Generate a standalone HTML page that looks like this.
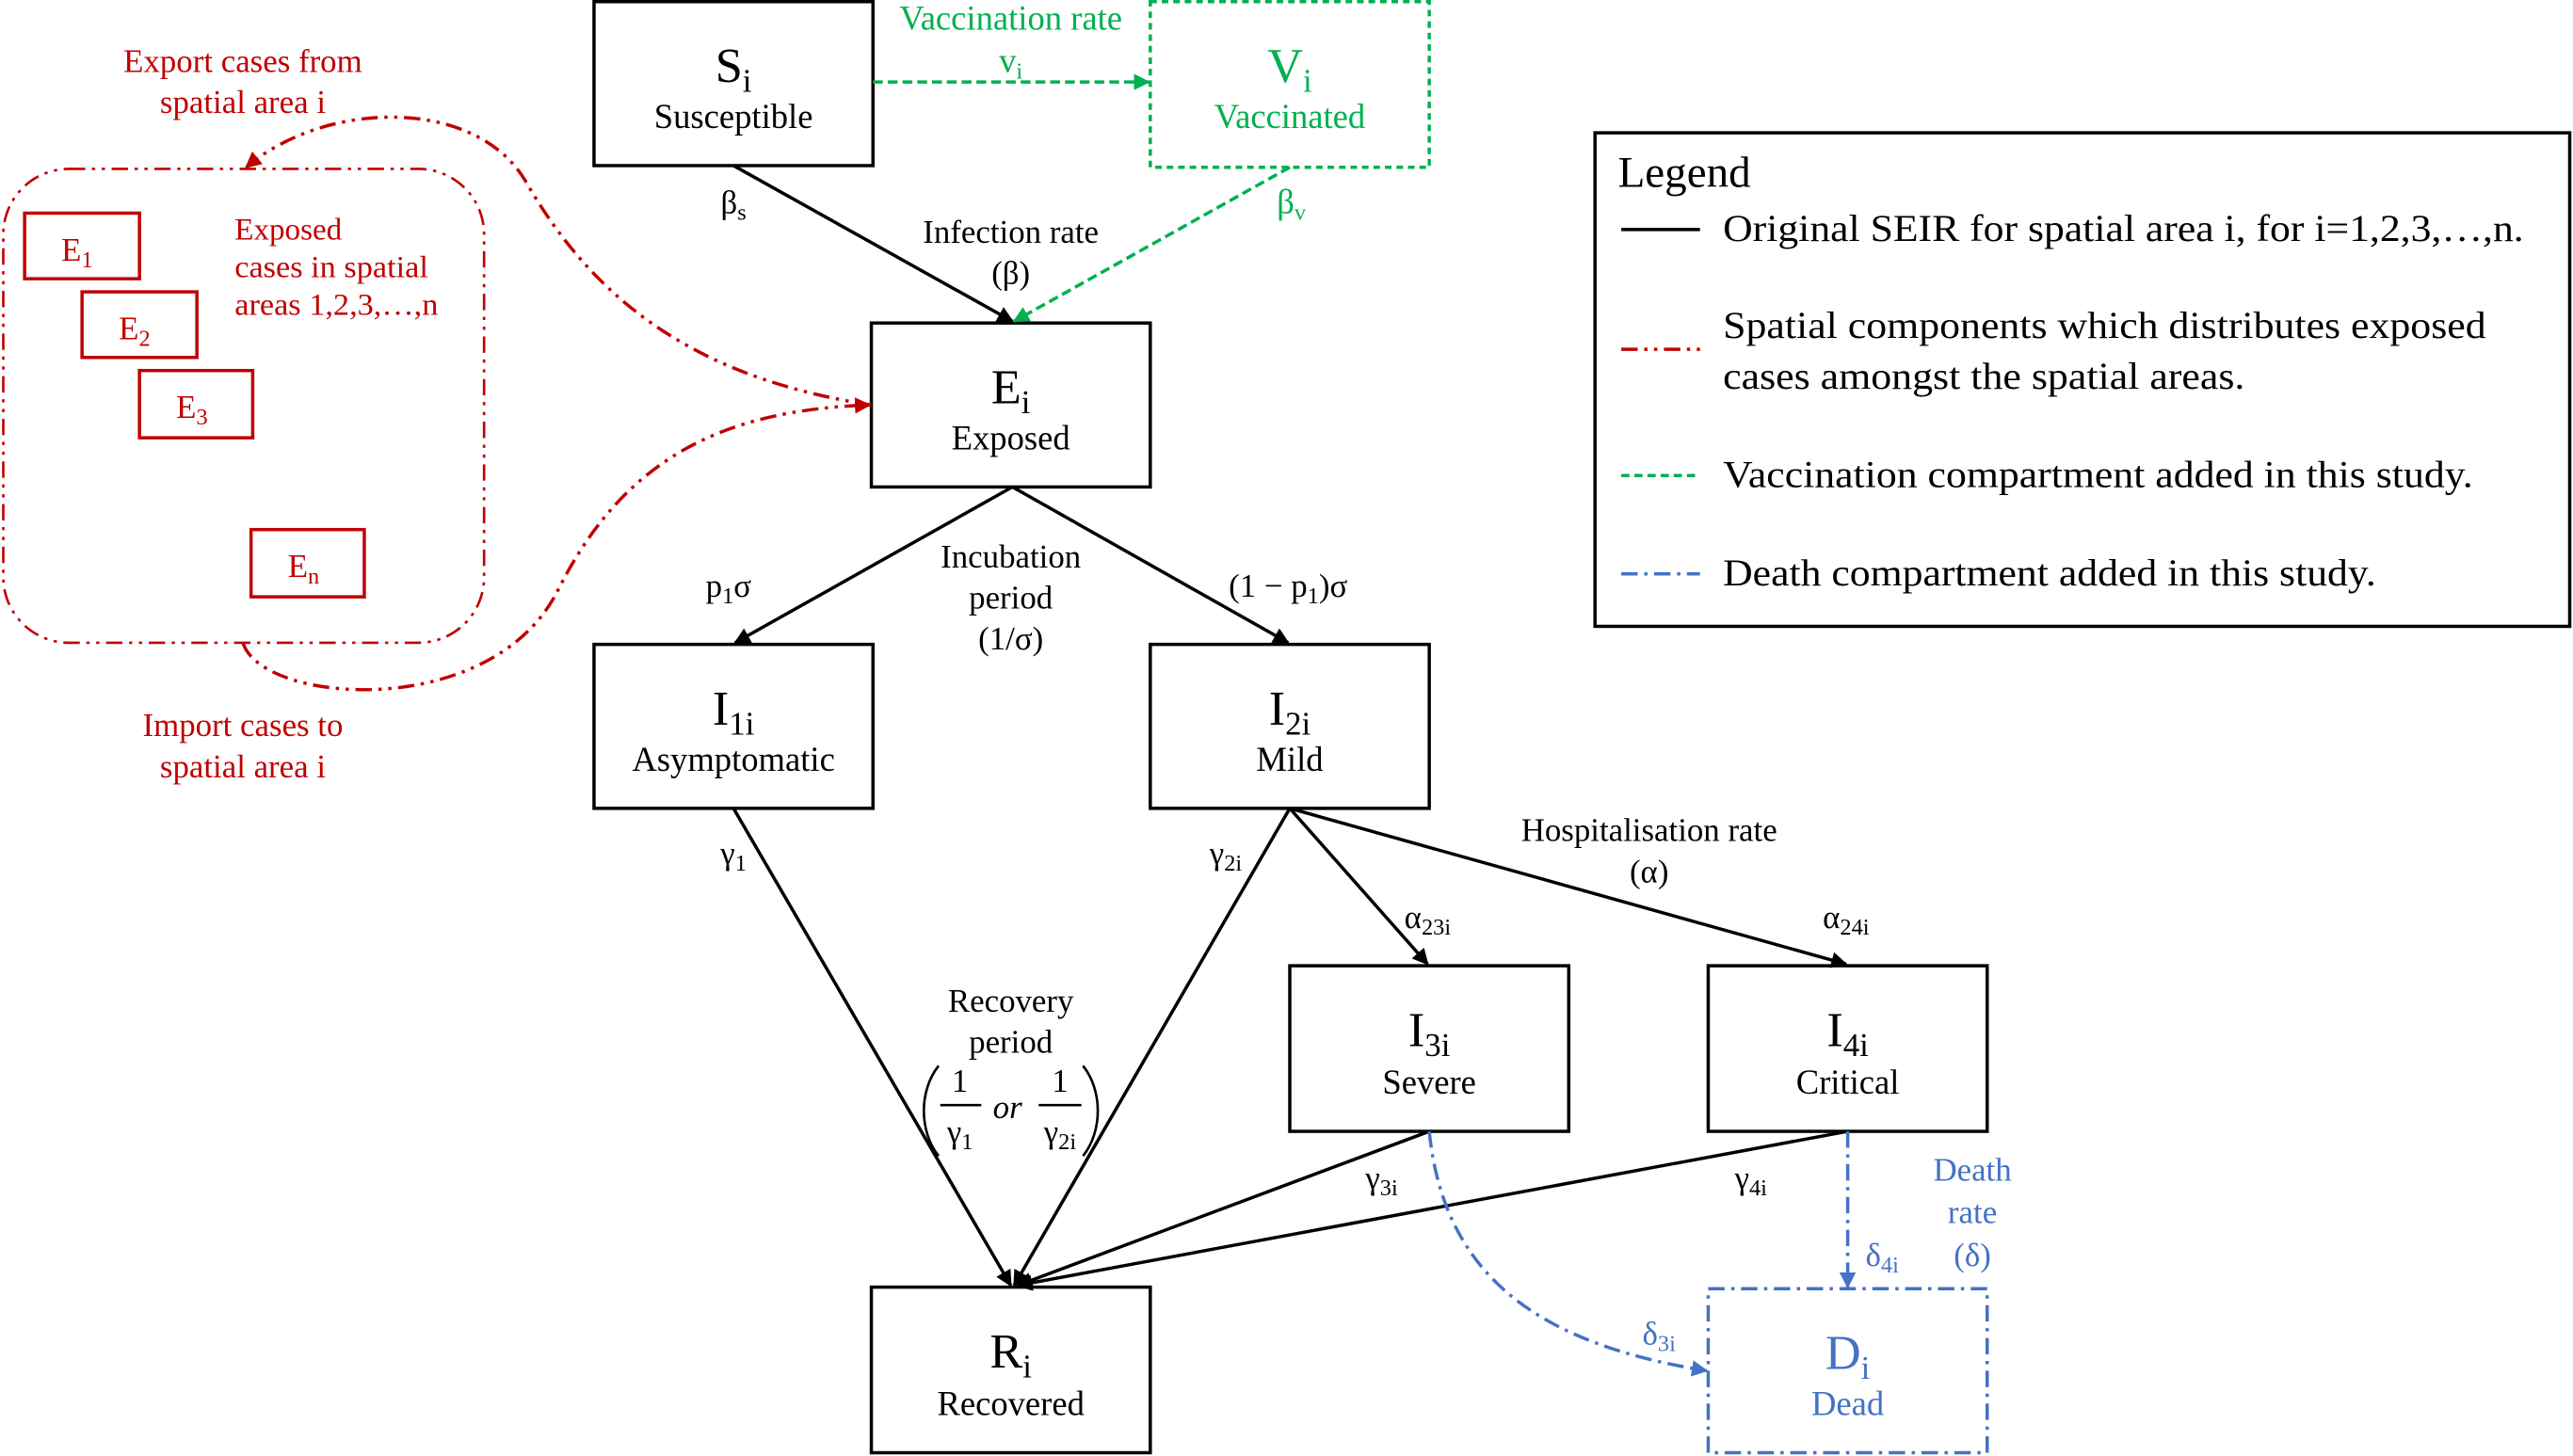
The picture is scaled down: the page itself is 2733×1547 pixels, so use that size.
<!DOCTYPE html>
<html><head><meta charset="utf-8"><style>
html,body{margin:0;padding:0;background:#fff;}
svg{display:block;font-family:"Liberation Serif",serif;}
</style></head><body>
<svg width="2733" height="1547" viewBox="0 0 1568 888" preserveAspectRatio="none" xmlns="http://www.w3.org/2000/svg">
<defs>
<marker id="ak" markerWidth="10" markerHeight="10" refX="9" refY="5" orient="auto" markerUnits="userSpaceOnUse"><path d="M0,0 L10,5 L0,10 z" fill="#000"/></marker>
<marker id="ag" markerWidth="10" markerHeight="10" refX="9" refY="5" orient="auto" markerUnits="userSpaceOnUse"><path d="M0,0 L10,5 L0,10 z" fill="#00b050"/></marker>
<marker id="ar" markerWidth="10" markerHeight="10" refX="9" refY="5" orient="auto" markerUnits="userSpaceOnUse"><path d="M0,0 L10,5 L0,10 z" fill="#c00000"/></marker>
<marker id="ab" markerWidth="10" markerHeight="10" refX="9" refY="5" orient="auto" markerUnits="userSpaceOnUse"><path d="M0,0 L10,5 L0,10 z" fill="#4472c4"/></marker>
</defs>
<g fill="none" stroke-width="2">
<rect x="362" y="1" width="170" height="100" stroke="#000"/>
<rect x="701" y="1" width="170" height="101" stroke="#00b050" stroke-dasharray="4,3"/>
<rect x="531" y="197" width="170" height="100" stroke="#000"/>
<rect x="362" y="393" width="170" height="100" stroke="#000"/>
<rect x="701" y="393" width="170" height="100" stroke="#000"/>
<rect x="786" y="589" width="170" height="101" stroke="#000"/>
<rect x="1041" y="589" width="170" height="101" stroke="#000"/>
<rect x="531" y="785" width="170" height="101" stroke="#000"/>
<rect x="1041" y="786" width="170" height="100" stroke="#4472c4" stroke-dasharray="10,4,2,4"/>
<rect x="972" y="81" width="594" height="301" stroke="#000"/>
<rect x="2" y="103" width="293" height="289" rx="40" stroke="#c00000" stroke-width="1.5" stroke-dasharray="10,4,2,4,2,4"/>
<rect x="15" y="130" width="70" height="40" stroke="#c00000"/>
<rect x="50" y="178" width="70" height="40" stroke="#c00000"/>
<rect x="85" y="226" width="69" height="41" stroke="#c00000"/>
<rect x="153" y="323" width="69" height="41" stroke="#c00000"/>
<g stroke="#000" marker-end="url(#ak)">
<line x1="447" y1="101" x2="617" y2="196"/>
<line x1="617" y1="297" x2="448" y2="392"/>
<line x1="617" y1="297" x2="785" y2="392"/>
<line x1="447" y1="493" x2="616" y2="784"/>
<line x1="786" y1="493" x2="618" y2="784"/>
<line x1="786" y1="493" x2="870" y2="588"/>
<line x1="786" y1="493" x2="1125" y2="588"/>
<line x1="871" y1="690" x2="620" y2="784"/>
<line x1="1126" y1="690" x2="620" y2="784"/>
</g>
<line x1="532" y1="50" x2="700" y2="50" stroke="#00b050" stroke-dasharray="6,3" marker-end="url(#ag)"/>
<line x1="786" y1="102" x2="618" y2="196" stroke="#00b050" stroke-dasharray="6,3" marker-end="url(#ag)"/>
<path d="M531,247 C420,230 360,180 320,110 C290,60 200,60 150,102" stroke="#c00000" stroke-dasharray="10,4,2,4,2,4" marker-end="url(#ar)"/>
<path d="M148,392 C160,430 300,440 340,360 C380,280 440,250 530,247" stroke="#c00000" stroke-dasharray="10,4,2,4,2,4" marker-end="url(#ar)"/>
<path d="M871,690 C880,780 940,820 1040,836" stroke="#4472c4" stroke-dasharray="10,4,2,4" marker-end="url(#ab)"/>
<line x1="1126" y1="690" x2="1126" y2="785" stroke="#4472c4" stroke-dasharray="10,4,2,4" marker-end="url(#ab)"/>
<line x1="988" y1="140" x2="1036" y2="140" stroke="#000"/>
<line x1="988" y1="213" x2="1036" y2="213" stroke="#c00000" stroke-dasharray="10,4,2,4,2,4"/>
<line x1="988" y1="290" x2="1036" y2="290" stroke="#00b050" stroke-dasharray="5,3"/>
<line x1="988" y1="350" x2="1036" y2="350" stroke="#4472c4" stroke-dasharray="10,4,2,4"/>
</g>
<g text-anchor="middle" font-size="21">
<text x="447" y="50" font-size="30">S<tspan font-size="20" dy="6">i</tspan></text><text x="447" y="78">Susceptible</text>
<g fill="#00b050"><text x="786" y="50" font-size="30">V<tspan font-size="20" dy="6">i</tspan></text><text x="786" y="78">Vaccinated</text>
<text x="616" y="18">Vaccination rate</text><text x="616" y="44">v<tspan font-size="14" dy="4">i</tspan></text>
<text x="787" y="130">β<tspan font-size="14" dy="4">v</tspan></text></g>
<text x="616" y="246" font-size="30">E<tspan font-size="20" dy="6">i</tspan></text><text x="616" y="274">Exposed</text>
<text x="447" y="442" font-size="30">I<tspan font-size="20" dy="6">1i</tspan></text><text x="447" y="470">Asymptomatic</text>
<text x="786" y="442" font-size="30">I<tspan font-size="20" dy="6">2i</tspan></text><text x="786" y="470">Mild</text>
<text x="871" y="638" font-size="30">I<tspan font-size="20" dy="6">3i</tspan></text><text x="871" y="667">Severe</text>
<text x="1126" y="638" font-size="30">I<tspan font-size="20" dy="6">4i</tspan></text><text x="1126" y="667">Critical</text>
<text x="616" y="834" font-size="30">R<tspan font-size="20" dy="6">i</tspan></text><text x="616" y="863">Recovered</text>
<g fill="#4472c4"><text x="1126" y="835" font-size="30">D<tspan font-size="20" dy="6">i</tspan></text><text x="1126" y="863">Dead</text>
<text x="1202" y="720" font-size="20">Death</text><text x="1202" y="746" font-size="20">rate</text><text x="1202" y="772" font-size="20">(δ)</text>
<text x="1147" y="772" font-size="20">δ<tspan font-size="14" dy="4">4i</tspan></text><text x="1011" y="820" font-size="20">δ<tspan font-size="14" dy="4">3i</tspan></text></g>
<text x="447" y="130" font-size="20">β<tspan font-size="14" dy="4">s</tspan></text>
<text x="616" y="148" font-size="20">Infection rate</text><text x="616" y="173" font-size="20">(β)</text>
<text x="616" y="346" font-size="20">Incubation</text><text x="616" y="371" font-size="20">period</text><text x="616" y="396" font-size="20">(1/σ)</text>
<text x="444" y="364" font-size="20">p<tspan font-size="14" dy="4">1</tspan><tspan dy="-4">σ</tspan></text>
<text x="785" y="364" font-size="20">(1 − p<tspan font-size="14" dy="4">1</tspan><tspan dy="-4">)σ</tspan></text>
<text x="447" y="527" font-size="20">γ<tspan font-size="14" dy="4">1</tspan></text>
<text x="747" y="527" font-size="20">γ<tspan font-size="14" dy="4">2i</tspan></text>
<text x="1005" y="513" font-size="20">Hospitalisation rate</text><text x="1005" y="538" font-size="20">(α)</text>
<text x="870" y="566" font-size="20">α<tspan font-size="14" dy="4">23i</tspan></text>
<text x="1125" y="566" font-size="20">α<tspan font-size="14" dy="4">24i</tspan></text>
<text x="616" y="617" font-size="20">Recovery</text><text x="616" y="642" font-size="20">period</text>
<text x="585" y="666" font-size="20">1</text><text x="585" y="697" font-size="20">γ<tspan font-size="14" dy="4">1</tspan></text>
<text x="614" y="682" font-style="italic" font-size="20">or</text>
<text x="646" y="666" font-size="20">1</text><text x="646" y="697" font-size="20">γ<tspan font-size="14" dy="4">2i</tspan></text>
<text x="842" y="725" font-size="20">γ<tspan font-size="14" dy="4">3i</tspan></text>
<text x="1067" y="725" font-size="20">γ<tspan font-size="14" dy="4">4i</tspan></text>
<g fill="#c00000" font-size="20"><text x="148" y="44">Export cases from</text><text x="148" y="69">spatial area i</text>
<text x="148" y="449">Import cases to</text><text x="148" y="474">spatial area i</text>
<text x="47" y="159">E<tspan font-size="14" dy="4">1</tspan></text><text x="82" y="207">E<tspan font-size="14" dy="4">2</tspan></text>
<text x="117" y="255">E<tspan font-size="14" dy="4">3</tspan></text><text x="185" y="352">E<tspan font-size="14" dy="4">n</tspan></text></g>
</g>
<g fill="none" stroke="#000" stroke-width="1.5">
<line x1="573" y1="674" x2="598" y2="674"/><line x1="633" y1="674" x2="659" y2="674"/>
<path d="M572,650 C560,665 560,690 572,705"/><path d="M660,650 C672,665 672,690 660,705"/>
</g>
<g font-size="19" fill="#c00000"><text x="143" y="146">Exposed</text><text x="143" y="169" textLength="118" lengthAdjust="spacingAndGlyphs">cases in spatial</text><text x="143" y="192" textLength="124" lengthAdjust="spacingAndGlyphs">areas 1,2,3,…,n</text></g>
<g font-size="23">
<text x="986" y="114" font-size="27">Legend</text>
<text x="1050" y="147" textLength="488" lengthAdjust="spacingAndGlyphs">Original SEIR for spatial area i, for i=1,2,3,…,n.</text>
<text x="1050" y="206" textLength="465" lengthAdjust="spacingAndGlyphs">Spatial components which distributes exposed</text>
<text x="1050" y="237" textLength="318" lengthAdjust="spacingAndGlyphs">cases amongst the spatial areas.</text>
<text x="1050" y="297" textLength="457" lengthAdjust="spacingAndGlyphs">Vaccination compartment added in this study.</text>
<text x="1050" y="357" textLength="398" lengthAdjust="spacingAndGlyphs">Death compartment added in this study.</text>
</g>
</svg>
</body></html>
